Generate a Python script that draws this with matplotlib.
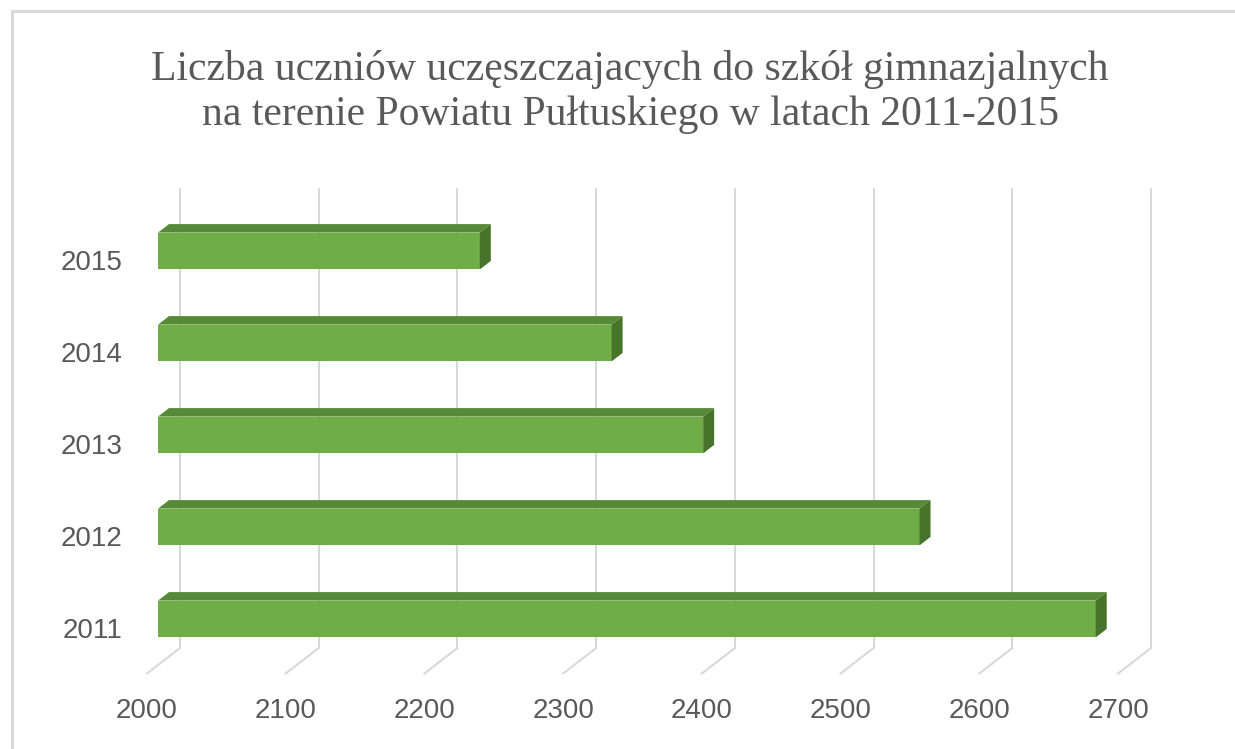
import numpy as np
import matplotlib.pyplot as plt
from matplotlib.patches import Polygon, Rectangle
from matplotlib.transforms import Affine2D, IdentityTransform

# Data
years = ["2011", "2012", "2013", "2014", "2015"]
students = [2676, 2549, 2393, 2327, 2232]
x_ticks = [2000, 2100, 2200, 2300, 2400, 2500, 2600, 2700]

title = ("Liczba uczniów uczęszczajacych do szkół gimnazjalnych\n"
         "na terenie Powiatu Pułtuskiego w latach 2011-2015")

# 3D look: pixel offset per unit of depth
DX, DY = 11, 8.5
bar_h = 0.4

fig = plt.figure(figsize=(12.35, 7.49), dpi=100)
ax = fig.add_axes([158 / 1235, 84 / 749, 971 / 1235, 460 / 749])
ax.set_xlim(2000, 2700)
ax.set_ylim(-0.5, 4.5)
ax.axis("off")


def to_px(x, y, z):
    px, py = ax.transData.transform((x, y))
    return px + z * DX, py + z * DY


def depth(z):
    return ax.transData + Affine2D().translate(z * DX, z * DY)


grid_col = "#d9d9d9"
# gridlines on back wall + floor diagonals
for v in x_ticks:
    ax.plot([v, v], [-0.5, 4.5], color=grid_col, lw=1.5, transform=depth(2),
            zorder=1, solid_capstyle="butt", clip_on=False)
    p0 = to_px(v, -0.5, 2)
    p1 = to_px(v, -0.5, -1)
    fig.add_artist(plt.Line2D([p0[0], p1[0]], [p0[1], p1[1]], color=grid_col,
                              lw=1.5, transform=IdentityTransform()))
    lx, ly = p1
    fig.text(lx / 1235, (ly - 38) / 749, str(v), ha="center", va="center",
             fontsize=20, color="#595959", family="Liberation Sans")

front_col = "#70ad47"
top_col = "#578a37"
side_col = "#47742a"

x0 = ax.get_xlim()[0]
for i, (yr, val) in enumerate(zip(years, students)):
    y_lo, y_hi = i - bar_h / 2, i + bar_h / 2
    # front face
    ax.add_patch(Rectangle((x0, y_lo), val - x0, bar_h, facecolor=front_col,
                           edgecolor="none", zorder=3))
    # top face
    top = [to_px(x0, y_hi, 0), to_px(val, y_hi, 0),
           to_px(val, y_hi, 1), to_px(x0, y_hi, 1)]
    fig.add_artist(Polygon(top, closed=True, facecolor=top_col, edgecolor="none",
                           transform=IdentityTransform(), zorder=3))
    # right side face
    side = [to_px(val, y_lo, 0), to_px(val, y_hi, 0),
            to_px(val, y_hi, 1), to_px(val, y_lo, 1)]
    fig.add_artist(Polygon(side, closed=True, facecolor=side_col, edgecolor="none",
                           transform=IdentityTransform(), zorder=3))
    # category label
    lx, ly = to_px(x0, i, -1)
    fig.text((lx - 25) / 1235, (ly - 4) / 749, yr, ha="right", va="center",
             fontsize=20, color="#595959", family="Liberation Sans")

fig.text(630 / 1235, 1 - 92 / 749, title, ha="center", va="center",
         fontsize=30, color="#595959", family="Liberation Serif",
         linespacing=1.2)

# chart area border
fig.add_artist(Rectangle((12 / 1235, -0.2), 1.2, 1.2 - 11 / 749,
                         transform=fig.transFigure, fill=False,
                         edgecolor="#d9d9d9", lw=2.2))

fig.savefig("out.png", dpi=100)
